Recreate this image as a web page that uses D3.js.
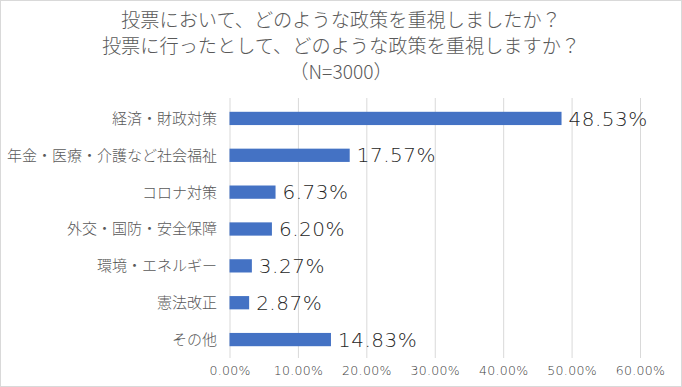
<!DOCTYPE html>
<html>
<head>
<meta charset="utf-8">
<script src="https://cdn.jsdelivr.net/npm/d3@7"></script>
<style>
  body { margin: 0; background: #fff; }
  svg { display: block; font-family: "Noto Sans CJK JP", "Noto Sans", sans-serif; }
</style>
</head>
<body>
<svg></svg>
<script>
const titleLines = [
  "投票において、どのような政策を重視しましたか？",
  "投票に行ったとして、どのような政策を重視しますか？",
  "（N=3000）"
];
const categories = [
  "経済・財政対策",
  "年金・医療・介護など社会福祉",
  "コロナ対策",
  "外交・国防・安全保障",
  "環境・エネルギー",
  "憲法改正",
  "その他"
];
const values = [48.53, 17.57, 6.73, 6.20, 3.27, 2.87, 14.83];
const ticks = [0, 10, 20, 30, 40, 50, 60];

const width = 682;
const height = 387;
const margin = { top: 100, right: 42, bottom: 29, left: 229.5 };

const svg = d3.select('svg')
  .attr('width', width)
  .attr('height', height);

svg.append('rect')
  .attr('x', 0.5).attr('y', 0.5)
  .attr('width', width - 1).attr('height', height - 1)
  .attr('fill', '#fff')
  .attr('stroke', '#d9d9d9');

const x = d3.scaleLinear()
  .domain([0, 60])
  .range([margin.left, width - margin.right]);

const y = d3.scaleBand()
  .domain(categories)
  .range([margin.top, height - margin.bottom])
  .paddingInner(0.64)
  .paddingOuter(0.32);

// title
svg.append('g')
  .selectAll('text')
  .data(titleLines)
  .enter()
  .append('text')
  .attr('x', width / 2)
  .attr('y', (d, i) => 27 + i * 26)
  .attr('text-anchor', 'middle')
  .attr('font-size', 19.2)
  .attr('font-weight', 300)
  .attr('fill', '#595959')
  .text(d => d);

// grid
svg.append('g')
  .selectAll('line')
  .data(ticks)
  .enter()
  .append('line')
  .attr('x1', d => x(d) + 0.5)
  .attr('x2', d => x(d) + 0.5)
  .attr('y1', margin.top - 2)
  .attr('y2', height - margin.bottom)
  .attr('stroke', '#d9d9d9')
  .attr('stroke-width', 1);

// x axis labels
const xAxis = d3.axisBottom(x)
  .tickValues(ticks)
  .tickSize(0)
  .tickPadding(0)
  .tickFormat(d => d.toFixed(2) + '%');

svg.append('g')
  .attr('transform', `translate(0,${height - margin.bottom + 8})`)
  .call(xAxis)
  .call(g => g.select('.domain').remove())
  .call(g => g.selectAll('text')
    .attr('font-family', '"DejaVu Sans", sans-serif')
    .attr('font-weight', 200)
    .attr('font-size', 12.5)
    .attr('letter-spacing', 0.3)
    .attr('fill', '#404040')
    .attr('dy', '0.71em'));

// category labels
svg.append('g')
  .selectAll('text')
  .data(categories)
  .enter()
  .append('text')
  .attr('x', 217)
  .attr('y', d => y(d) + y.bandwidth() / 2)
  .attr('dy', '0.36em')
  .attr('text-anchor', 'end')
  .attr('font-size', 15)
  .attr('font-weight', 300)
  .attr('fill', '#595959')
  .text(d => d);

// bars
svg.append('g')
  .selectAll('rect')
  .data(values)
  .enter()
  .append('rect')
  .attr('x', x(0))
  .attr('y', (d, i) => y(categories[i]))
  .attr('width', d => x(d) - x(0))
  .attr('height', y.bandwidth())
  .attr('fill', '#4472c4');

// value labels
svg.append('g')
  .selectAll('text')
  .data(values)
  .enter()
  .append('text')
  .attr('x', d => x(d) + 7)
  .attr('y', (d, i) => y(categories[i]) + y.bandwidth() / 2)
  .attr('dy', '0.36em')
  .attr('font-family', '"DejaVu Sans", sans-serif')
  .attr('font-weight', 200)
  .attr('font-size', 20)
  .attr('letter-spacing', 0.5)
  .attr('fill', '#262626')
  .text(d => d.toFixed(2) + '%');
</script>
</body>
</html>
